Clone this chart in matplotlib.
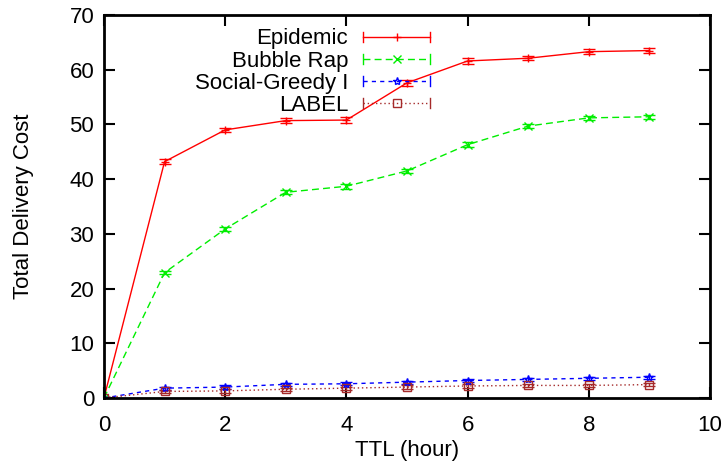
import numpy as np
import matplotlib
matplotlib.use("Agg")
import matplotlib.pyplot as plt
from matplotlib.lines import Line2D
from matplotlib.legend_handler import HandlerLine2D

plt.rcParams['font.family'] = ['Liberation Sans', 'DejaVu Sans']

ttl = [0, 1, 2, 3, 4, 5, 6, 7, 8, 9]
epidemic = [0, 43.2, 49.0, 50.7, 50.8, 57.6, 61.6, 62.1, 63.3, 63.5]
epidemic_err = [0.2, 0.4, 0.4, 0.4, 0.6, 0.5, 0.5, 0.4, 0.4, 0.4]
bubble = [0, 22.9, 30.9, 37.6, 38.7, 41.5, 46.3, 49.7, 51.2, 51.4]
bubble_err = [0.2, 0.3, 0.3, 0.4, 0.5, 0.4, 0.4, 0.4, 0.4, 0.4]
greedy = [0, 1.8, 2.0, 2.5, 2.6, 2.9, 3.2, 3.4, 3.6, 3.8]
greedy_err = [0.1, 0.3, 0.3, 0.3, 0.3, 0.3, 0.3, 0.3, 0.3, 0.3]
label = [0, 1.2, 1.3, 1.6, 1.8, 2.0, 2.2, 2.3, 2.3, 2.45]
label_err = [0.1, 0.3, 0.3, 0.3, 0.3, 0.3, 0.3, 0.3, 0.3, 0.3]

names = ['Epidemic', 'Bubble Rap', 'Social-Greedy I', 'LABEL']
colors = ['#ff0000', '#00ee00', '#0000ff', '#a52a2a']
styles = ['-', (0, (5, 3)), (0, (3, 3)), (0, (1, 2))]
markers = ['+', 'x', '*', 's']


# gnuplot-style key sample: line with a cap at each end
class CapHandler(HandlerLine2D):
    def create_artists(self, legend, orig_handle, xdescent, ydescent,
                       width, height, fontsize, trans):
        arts = super().create_artists(legend, orig_handle, xdescent, ydescent,
                                      width, height, fontsize, trans)
        x0 = -xdescent
        x1 = width - xdescent
        yc = height / 2 - ydescent
        h = height * 0.32
        for x in (x0, x1):
            cap = Line2D([x, x], [yc - h, yc + h], color=orig_handle.get_color(),
                         linewidth=1, transform=trans)
            arts.append(cap)
        return arts


fig = plt.figure(figsize=(7.24, 4.66), dpi=100)
ax = fig.add_axes([0.1436, 0.1459, 0.8371, 0.8219])

series = [(epidemic, epidemic_err), (bubble, bubble_err), (greedy, greedy_err), (label, label_err)]
handles = []
for (vals, errs), nm, c, ls, mk in zip(series, names, colors, styles, markers):
    ax.errorbar(ttl, vals, yerr=errs, color=c, linestyle=ls, linewidth=1,
                marker=mk, markersize=6, markerfacecolor='none',
                markeredgewidth=1, capsize=4, elinewidth=1)
    handles.append(Line2D([0], [0], color=c, linestyle=ls, linewidth=1, marker=mk,
                          markersize=6, markerfacecolor='none', markeredgewidth=1))

ax.set_xlim(0, 10)
ax.set_ylim(0, 70)
ax.set_xticks(np.arange(0, 11, 2))
ax.set_yticks(np.arange(0, 71, 10))
ax.tick_params(direction='in', length=8, width=1.5, top=True, right=True, labelsize=16, pad=7)
ax.tick_params(axis='x', pad=12)
for sp in ax.spines.values():
    sp.set_linewidth(2)
ax.set_xlabel('TTL (hour)', fontsize=16)
ax.set_ylabel('Total Delivery Cost', fontsize=16)
ax.xaxis.set_label_coords(0.5, -0.11)
ax.yaxis.set_label_coords(-0.116, 0.5)

leg = ax.legend(handles, names, loc='upper right', bbox_to_anchor=(0.538, 0.965),
                frameon=False, markerfirst=False, fontsize=16, handlelength=3.0,
                labelspacing=0.05, handletextpad=0.68, borderaxespad=0, borderpad=0,
                numpoints=1, handler_map={Line2D: CapHandler(numpoints=1)})
for t in leg.get_texts():
    t.set_ha('right')
leg._legend_box.align = 'right'

fig.savefig('out.png', dpi=100)
